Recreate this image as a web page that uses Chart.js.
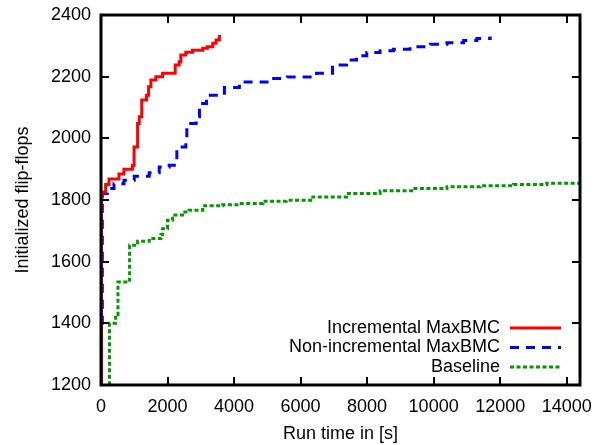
<!DOCTYPE html>
<html>
<head>
<meta charset="utf-8">
<script src="https://cdn.jsdelivr.net/npm/chart.js@4.4.1/dist/chart.umd.min.js"></script>
<style>
  html, body { margin: 0; padding: 0; background: #fff; }
</style>
</head>
<body>
<canvas id="chart" width="609" height="445"></canvas>
<script>
// Data (run time in s -> initialized flip-flops)
const incTime = [0, 15, 40, 140, 240, 540, 690, 945, 995, 1100, 1150, 1225, 1370, 1430, 1500, 1650, 1850, 2230, 2350, 2400, 2550, 2750, 3060, 3200, 3360, 3460, 3560];
const incFF   = [1200, 1810, 1826, 1850, 1868, 1884, 1900, 1912, 1972, 2048, 2070, 2124, 2140, 2167, 2189, 2200, 2211, 2238, 2248, 2270, 2279, 2286, 2292, 2297, 2308, 2319, 2335];

const nonIncTime = [0, 40, 190, 390, 690, 1000, 1450, 1750, 2050, 2280, 2550, 2580, 2860, 2960, 3170, 3710, 4160, 5070, 5600, 6480, 6960, 7380, 7680, 7990, 8390, 8790, 9290, 9900, 10400, 10900, 11300, 11700];
const nonIncFF   = [1400, 1821, 1837, 1853, 1864, 1877, 1888, 1907, 1913, 1972, 1989, 2048, 2070, 2113, 2140, 2165, 2183, 2194, 2199, 2211, 2238, 2254, 2268, 2278, 2284, 2289, 2297, 2305, 2310, 2317, 2324, 2330];

const baseTime = [250, 255, 440, 510, 850, 860, 1100, 1450, 1800, 1850, 2000, 2150, 2450, 2650, 3060, 3660, 4160, 4870, 5570, 6370, 7380, 8390, 9390, 10400, 11400, 12400, 13400, 14400];
const baseFF   = [1200, 1400, 1428, 1534, 1540, 1653, 1666, 1675, 1688, 1707, 1734, 1751, 1761, 1767, 1781, 1785, 1789, 1796, 1799, 1810, 1821, 1830, 1837, 1843, 1846, 1850, 1854, 1856];

const seriesLabels = ['Incremental MaxBMC', 'Non-incremental MaxBMC', 'Baseline'];

const xTicks = [0, 2000, 4000, 6000, 8000, 10000, 12000, 14000];
const yTicks = [1200, 1400, 1600, 1800, 2000, 2200, 2400];

const FONT = "'Liberation Sans', Arial, sans-serif";
const FSIZE = 18;

function toPoints(xs, ys) {
    return xs.map((x, i) => ({ x: x, y: ys[i] }));
}

// gnuplot-style frame: box, inward ticks on all four sides, key at bottom right
const framePlugin = {
    id: 'frame',
    afterDatasetsDraw(chart) {
        const { ctx, chartArea: a, scales: { x, y } } = chart;
        ctx.save();
        ctx.strokeStyle = '#000';
        ctx.lineWidth = 2;
        ctx.beginPath();
        x.ticks.forEach(t => {
            const px = Math.round(x.getPixelForValue(t.value));
            ctx.moveTo(px, a.bottom); ctx.lineTo(px, a.bottom - 8);
            ctx.moveTo(px, a.top); ctx.lineTo(px, a.top + 8);
        });
        y.ticks.forEach(t => {
            const py = Math.round(y.getPixelForValue(t.value));
            ctx.moveTo(a.left, py); ctx.lineTo(a.left + 8, py);
            ctx.moveTo(a.right, py); ctx.lineTo(a.right - 8, py);
        });
        ctx.stroke();

        ctx.lineWidth = 3;
        ctx.strokeRect(a.left, a.top, a.right - a.left, a.bottom - a.top);

        // key
        ctx.font = FSIZE + 'px ' + FONT;
        ctx.fillStyle = '#000';
        ctx.textAlign = 'right';
        ctx.textBaseline = 'middle';
        chart.data.datasets.forEach((ds, i) => {
            const ry = a.bottom - 57 + i * 19.5;
            ctx.fillText(ds.label, a.right - 80, ry);
            ctx.beginPath();
            ctx.strokeStyle = ds.borderColor;
            ctx.lineWidth = ds.borderWidth;
            ctx.setLineDash(ds.borderDash || []);
            ctx.moveTo(a.right - 70, ry);
            ctx.lineTo(a.right - 19, ry);
            ctx.stroke();
        });
        ctx.restore();
    }
};

const chart = new Chart(document.getElementById('chart').getContext('2d'), {
    type: 'line',
    data: {
        datasets: [
            {
                label: seriesLabels[0],
                data: toPoints(incTime, incFF),
                borderColor: '#ff0000',
                borderWidth: 3,
                stepped: true
            },
            {
                label: seriesLabels[1],
                data: toPoints(nonIncTime, nonIncFF),
                borderColor: '#0000ff',
                borderWidth: 3,
                borderDash: [9, 7],
                stepped: true
            },
            {
                label: seriesLabels[2],
                data: toPoints(baseTime, baseFF),
                borderColor: '#009900',
                borderWidth: 3,
                borderDash: [4, 2.5],
                stepped: true
            }
        ]
    },
    options: {
        responsive: false,
        animation: false,
        elements: { point: { radius: 0 } },
        layout: { padding: { top: 15, right: 29, left: 0, bottom: 0 } },
        plugins: {
            legend: { display: false },
            tooltip: { enabled: false }
        },
        scales: {
            x: {
                type: 'linear',
                min: 0,
                max: 14400,
                border: { display: false },
                grid: { display: false, drawTicks: false },
                afterBuildTicks: s => { s.ticks = xTicks.map(v => ({ value: v })); },
                ticks: {
                    autoSkip: false,
                    padding: 11,
                    color: '#000',
                    font: { family: FONT, size: FSIZE },
                    maxRotation: 0,
                    callback: v => String(v)
                },
                title: {
                    display: true,
                    text: 'Run time in [s]',
                    color: '#000',
                    font: { family: FONT, size: FSIZE },
                    padding: { top: 0, bottom: 0 }
                },
                afterFit: s => { s.height = 60; s.paddingLeft = 0; s.paddingRight = 0; }
            },
            y: {
                min: 1200,
                max: 2400,
                border: { display: false },
                grid: { display: false, drawTicks: false },
                afterBuildTicks: s => { s.ticks = yTicks.map(v => ({ value: v })); },
                ticks: {
                    autoSkip: false,
                    padding: 10,
                    color: '#000',
                    font: { family: FONT, size: FSIZE },
                    callback: v => String(v)
                },
                title: {
                    display: true,
                    text: 'Initialized flip-flops',
                    color: '#000',
                    font: { family: FONT, size: FSIZE },
                    padding: { top: 12, bottom: 0 }
                },
                afterFit: s => { s.width = 101; s.paddingTop = 0; s.paddingBottom = 0; }
            }
        }
    },
    plugins: [framePlugin]
});
</script>
</body>
</html>
